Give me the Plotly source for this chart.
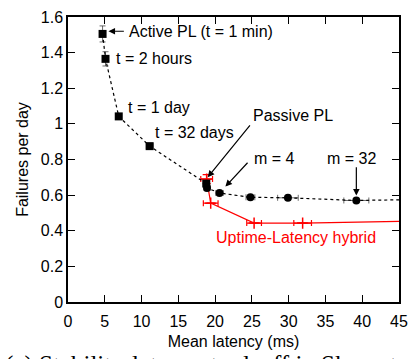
import plotly.graph_objects as go

# Black series: Active PL (squares) then Passive PL / m sweep (circles)
pl_x = [4.7, 5.1, 6.9, 11.1, 18.8, 18.9, 20.6, 24.8, 29.9, 39.2, 47.0]
pl_y = [1.505, 1.365, 1.042, 0.875, 0.665, 0.640, 0.612, 0.588, 0.585, 0.570, 0.575]
pl_xerr = [0.15, 0.2, 0.35, 0.45, 0.4, 0.4, 0.5, 0.6, 1.4, 1.7, 1.7]
pl_yerr = [0.045, 0.04, 0.015, 0.012, 0.015, 0.015, 0.008, 0.006, 0.006, 0.006, 0.006]
pl_symbols = ["square"] * 5 + ["circle"] * 6

# Red series: Uptime-Latency hybrid
hy_x = [18.85, 19.4, 25.3, 31.9, 50.0]
hy_y = [0.690, 0.555, 0.443, 0.443, 0.457]
hy_xerr = [0.8, 1.0, 1.0, 1.2, 1.2]
hy_yerr = [0.025, 0.0, 0.0, 0.0, 0.0]

x_ticks = [0, 5, 10, 15, 20, 25, 30, 35, 40, 45]
y_ticks = [0, 0.2, 0.4, 0.6, 0.8, 1.0, 1.2, 1.4, 1.6]

FONT = "Liberation Sans, Arial, sans-serif"

fig = go.Figure()

fig.add_trace(go.Scatter(
    x=hy_x, y=hy_y, mode="lines+markers",
    line=dict(color="#ff0000", width=1.2),
    marker=dict(symbol="cross-thin", size=8, color="#ff0000",
                line=dict(color="#ff0000", width=1.5)),
    error_x=dict(type="data", array=hy_xerr, color="#ff0000", thickness=1.2, width=3),
    error_y=dict(type="data", array=hy_yerr, color="#ff0000", thickness=1.2, width=4),
    showlegend=False, cliponaxis=True,
))

fig.add_trace(go.Scatter(
    x=pl_x, y=pl_y, mode="lines+markers",
    line=dict(color="black", width=1.2, dash="dot"),
    marker=dict(symbol=pl_symbols, size=8, color="black"),
    error_x=dict(type="data", array=pl_xerr, color="#444", thickness=0.8, width=3),
    error_y=dict(type="data", array=pl_yerr, color="#444", thickness=0.8, width=3),
    showlegend=False, cliponaxis=True,
))

annotations = []
def label(text, x, y, color="black"):
    annotations.append(dict(text=text, x=x, y=y, xref="x", yref="y",
                            xanchor="left", yanchor="middle", showarrow=False,
                            font=dict(family=FONT, size=16, color=color)))

def arrow(x0, y0, x1, y1):
    annotations.append(dict(text="", x=x1, y=y1, ax=x0, ay=y0, xref="x", yref="y",
                            axref="x", ayref="y", showarrow=True, arrowhead=2,
                            arrowsize=1.1, arrowwidth=1.2, arrowcolor="black"))

label("Active PL (t = 1 min)", 8.0, 1.52)
label("t = 2 hours", 6.3, 1.369)
label("t = 1 day", 7.9, 1.091)
label("t = 32 days", 11.5, 0.949)
label("Passive PL", 24.9, 1.046)
label("m = 4", 25.0, 0.806)
label("m = 32", 35.0, 0.806)
label("Uptime-Latency hybrid", 19.9, 0.36, color="#ff0000")

arrow(7.8, 1.52, 5.5, 1.52)
arrow(24.9, 1.0, 19.0, 0.70)
arrow(24.6, 0.79, 21.4, 0.648)
arrow(39.2, 0.765, 39.2, 0.598)

annotations.append(dict(text="(a) Stability-latency tradeoff in Skype trace",
                        x=-0.197, y=-0.165, xref="paper", yref="paper",
                        xanchor="left", yanchor="top", showarrow=False,
                        font=dict(family="Liberation Serif, Times New Roman, serif",
                                  size=25, color="black")))

axis_common = dict(showline=True, linecolor="black", linewidth=1.5, mirror="allticks",
                   ticks="inside", ticklen=7, tickwidth=1.2, tickcolor="black",
                   showgrid=False, zeroline=False,
                   tickfont=dict(family=FONT, size=16, color="black"))

fig.update_layout(
    width=417, height=359, autosize=False,
    margin=dict(l=68, r=14, t=9, b=57),
    paper_bgcolor="white", plot_bgcolor="white",
    xaxis=dict(range=[0, 45], tickvals=x_ticks, ticklabelstandoff=4,
               title=dict(text="Mean latency (ms)", standoff=7,
                          font=dict(family=FONT, size=16, color="black")),
               **axis_common),
    yaxis=dict(range=[0, 1.6], tickvals=y_ticks,
               title=dict(text="Failures per day", standoff=8,
                          font=dict(family=FONT, size=16, color="black")),
               **axis_common),
    annotations=annotations,
)

fig.write_html("out.html")
